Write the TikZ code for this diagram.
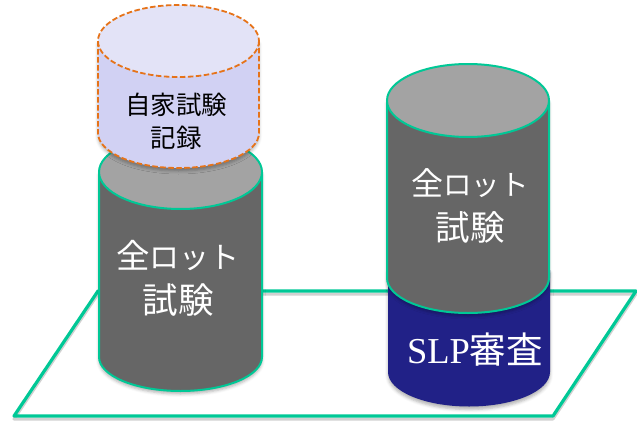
\documentclass[tikz,border=0pt]{standalone}
\usepackage{fontspec}
\setmainfont{Liberation Serif}
\newfontfamily\cjk{Noto Sans CJK JP}
\usetikzlibrary{shadows.blur}
\definecolor{teal1}{RGB}{0,200,150}
\definecolor{org}{RGB}{230,115,25}
\definecolor{graybody}{RGB}{102,102,102}
\definecolor{graytop}{RGB}{163,163,163}
\definecolor{navy1}{RGB}{33,33,135}
\definecolor{lavbody}{RGB}{209,209,243}
\definecolor{lavtop}{RGB}{227,227,247}
\tikzset{
  softshadow/.style={blur shadow={shadow xshift=0pt,shadow yshift=-3pt,shadow blur radius=3pt,shadow opacity=30}},
  rim/.style={teal1,line width=2pt},
  dashrim/.style={org,line width=1.8pt,dash pattern=on 5.5pt off 2.5pt},
  lbl/.style={inner sep=0pt,align=center},
}
\newcommand{\grouplabel}[3]{{\fontsize{#1}{45}\selectfont 全}{\fontsize{#2}{45}\selectfont ロット}\\{\fontsize{#3}{45}\selectfont 試験}}
\begin{document}
\begin{tikzpicture}[x=1pt,y=-1pt]
\useasboundingbox (0,0) rectangle (637,423);
% plane
\coordinate (pa) at (14,416);
\coordinate (pb) at (553,416);
\coordinate (pc) at (636,291);
\coordinate (pd) at (98,291);
\begin{scope}[shift={(0,3)}]
\draw[black!30,line width=3pt,opacity=.6,line join=round] (14,416) -- (553,416) -- (636,291) -- (98,291) -- cycle;
\end{scope}
\draw[teal1,line width=3.2pt,line join=round] (pa) -- (pb) -- (pc) -- (pd) -- cycle;
% navy
\fill[navy1,softshadow] (388,270) -- (388,372) arc[start angle=180,end angle=0,x radius=81,y radius=34.5] -- (550,270) -- cycle;
\node[lbl,text=white,font=\fontsize{36.5}{40}\selectfont] (slp) at (475,350) {SLP{\cjk 審査}};
% right gray
\fill[graybody,softshadow] (387,100.5) -- (387,278) arc[start angle=180,end angle=0,x radius=81,y radius=35] -- (549,100.5) -- cycle;
\draw[rim] (387,100.5) -- (387,278) arc[start angle=180,end angle=0,x radius=81,y radius=35] -- (549,100.5);
\draw[rim,fill=graytop] (468,100.5) ellipse[x radius=81,y radius=36.5];
\node[lbl,text=white,font=\cjk\fontsize{30}{45}\selectfont] (r) at (470,206) {\grouplabel{32}{28.5}{34.5}};
% left gray
\fill[graybody,softshadow] (99,172) -- (99,357) arc[start angle=180,end angle=0,x radius=81.5,y radius=34] -- (262,172) -- cycle;
\draw[rim] (99,172) -- (99,357) arc[start angle=180,end angle=0,x radius=81.5,y radius=34] -- (262,172);
\draw[rim,fill=graytop] (180.5,172) ellipse[x radius=81.5,y radius=37];
\node[lbl,text=white,font=\cjk\fontsize{31}{45}\selectfont] (l) at (178,278) {\grouplabel{33.5}{30}{35.5}};
% dashed
\fill[lavbody,softshadow] (98,41) -- (98,133) arc[start angle=180,end angle=0,x radius=80.5,y radius=35] -- (259,41) -- cycle;
\fill[lavtop] (178.5,41) ellipse[x radius=80.5,y radius=36];
\draw[dashrim] (98,41) -- (98,133) arc[start angle=180,end angle=0,x radius=80.5,y radius=35] -- (259,41);
\draw[dashrim] (178.5,41) ellipse[x radius=80.5,y radius=36];
\node[lbl,text=black,font=\cjk\fontsize{25.5}{33}\selectfont] (d) at (176,121) {自家試験\\記録};
\end{tikzpicture}
\end{document}
